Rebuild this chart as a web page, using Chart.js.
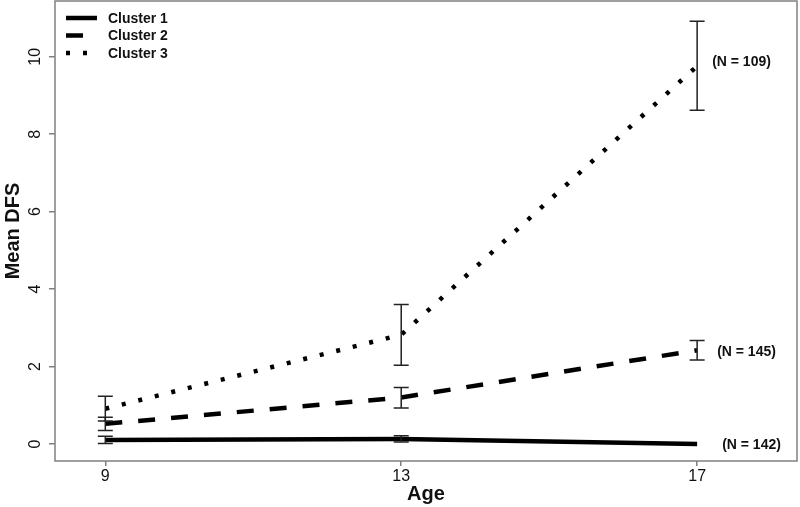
<!DOCTYPE html>
<html>
<head>
<meta charset="utf-8">
<script src="https://cdn.jsdelivr.net/npm/chart.js@4.4.1/dist/chart.umd.min.js"></script>
<style>
    html, body { margin: 0; padding: 0; background: #fff; }
    #wrap { width: 800px; height: 507px; }
</style>
</head>
<body>
<div id="wrap"><canvas id="chartDFS"></canvas></div>
<script>
// Data
const ages = [9, 13, 17];
const xTicks = [9, 13, 17];
const clusterNames = ['Cluster 1', 'Cluster 2', 'Cluster 3'];
const cluster1 = [0.105, 0.13, 0.0];
const cluster2 = [0.52, 1.2, 2.42];
const cluster3 = [0.91, 2.82, 9.76];
const cluster1Low = [0.01, 0.05, 0.0];
const cluster1High = [0.2, 0.21, 0.0];
const cluster2Low = [0.35, 0.93, 2.17];
const cluster2High = [0.69, 1.46, 2.67];
const cluster3Low = [0.59, 2.03, 8.62];
const cluster3High = [1.23, 3.6, 10.92];
const groupSizes = ['(N = 142)', '(N = 145)', '(N = 109)'];

const font = "'Liberation Sans', Arial, sans-serif";
const lineStyles = [[], [17, 16], [4, 13]];
const labelDx = [25, 20, 15];
const labelDy = [1, 2, -4];

const means = [cluster1, cluster2, cluster3];
const lows = [cluster1Low, cluster2Low, cluster3Low];
const highs = [cluster1High, cluster2High, cluster3High];

// error bars, box, legend and N labels
const extras = {
    id: 'extras',
    afterDatasetsDraw(chart) {
        const ctx = chart.ctx;
        const xs = chart.scales.x;
        const ys = chart.scales.y;
        const area = chart.chartArea;
        ctx.save();
        // error bars
        ctx.strokeStyle = '#222';
        ctx.lineWidth = 1.5;
        for (let s = 0; s < 3; s++) {
            for (let i = 0; i < ages.length; i++) {
                if (highs[s][i] === lows[s][i]) continue;
                const px = xs.getPixelForValue(ages[i]);
                const top = ys.getPixelForValue(highs[s][i]);
                const bot = ys.getPixelForValue(lows[s][i]);
                ctx.beginPath();
                ctx.moveTo(px, top); ctx.lineTo(px, bot);
                ctx.moveTo(px - 7.5, top); ctx.lineTo(px + 7.5, top);
                ctx.moveTo(px - 7.5, bot); ctx.lineTo(px + 7.5, bot);
                ctx.stroke();
            }
        }
        // N labels
        ctx.fillStyle = '#111';
        ctx.font = 'bold 14px ' + font;
        ctx.textAlign = 'left';
        ctx.textBaseline = 'middle';
        for (let s = 0; s < 3; s++) {
            const last = ages.length - 1;
            const px = xs.getPixelForValue(ages[last]) + labelDx[s];
            const py = ys.getPixelForValue(means[s][last]);
            ctx.fillText(groupSizes[s], px, py + labelDy[s]);
        }
        // legend
        for (let s = 0; s < 3; s++) {
            const ly = area.top + 17 + s * 17.5;
            ctx.beginPath();
            ctx.setLineDash(lineStyles[s]);
            ctx.lineWidth = 4.5;
            ctx.strokeStyle = '#000';
            ctx.moveTo(area.left + 11, ly);
            ctx.lineTo(area.left + 42, ly);
            ctx.stroke();
            ctx.fillText(clusterNames[s], area.left + 53, ly + 1);
        }
        ctx.setLineDash([]);
        // box
        ctx.strokeStyle = '#808080';
        ctx.lineWidth = 1.5;
        ctx.strokeRect(area.left, area.top, area.right - area.left, area.bottom - area.top);
        ctx.restore();
    }
};

document.addEventListener('DOMContentLoaded', () => {
    Chart.defaults.font.family = font;
    Chart.defaults.color = '#111';
    new Chart('chartDFS', {
        type: 'line',
        data: {
            datasets: clusterNames.map((name, s) => ({
                label: name,
                data: ages.map((a, i) => ({ x: a, y: means[s][i] })),
                borderColor: '#000',
                borderWidth: 4.5,
                borderDash: lineStyles[s],
                borderCapStyle: 'butt',
                pointRadius: 0,
                fill: false,
                tension: 0
            }))
        },
        options: {
            responsive: true,
            maintainAspectRatio: false,
            animation: false,
            layout: { padding: { top: 1, right: 3, left: 0, bottom: 0 } },
            plugins: {
                legend: { display: false },
                tooltip: { enabled: false }
            },
            scales: {
                x: {
                    type: 'linear',
                    min: 8.32,
                    max: 18.35,
                    afterBuildTicks: scale => { scale.ticks = xTicks.map(v => ({ value: v })); },
                    afterFit: scale => {
                        scale.height = 46;
                        scale.paddingLeft = 0;
                        scale.paddingRight = 0;
                    },
                    grid: { drawOnChartArea: false, drawTicks: true, tickLength: 5, color: '#808080', lineWidth: 1.5 },
                    border: { display: false },
                    ticks: { font: { size: 16 }, padding: 1, maxRotation: 0, autoSkip: false },
                    title: { display: true, text: 'Age', font: { size: 20, weight: 'bold' }, padding: { top: 0, bottom: 1 } }
                },
                y: {
                    min: -0.44,
                    max: 11.44,
                    afterFit: scale => {
                        scale.width = 55;
                        scale.paddingTop = 0;
                        scale.paddingBottom = 0;
                    },
                    grid: { drawOnChartArea: false, drawTicks: true, tickLength: 6, color: '#808080', lineWidth: 1.5 },
                    border: { display: false },
                    ticks: { stepSize: 2, includeBounds: false, minRotation: 90, maxRotation: 90, crossAlign: 'center', padding: 5, font: { size: 16 } },
                    title: { display: true, text: 'Mean DFS', font: { size: 20, weight: 'bold' }, padding: { top: 1, bottom: 0 } }
                }
            }
        },
        plugins: [extras]
    });
});
</script>
</body>
</html>
